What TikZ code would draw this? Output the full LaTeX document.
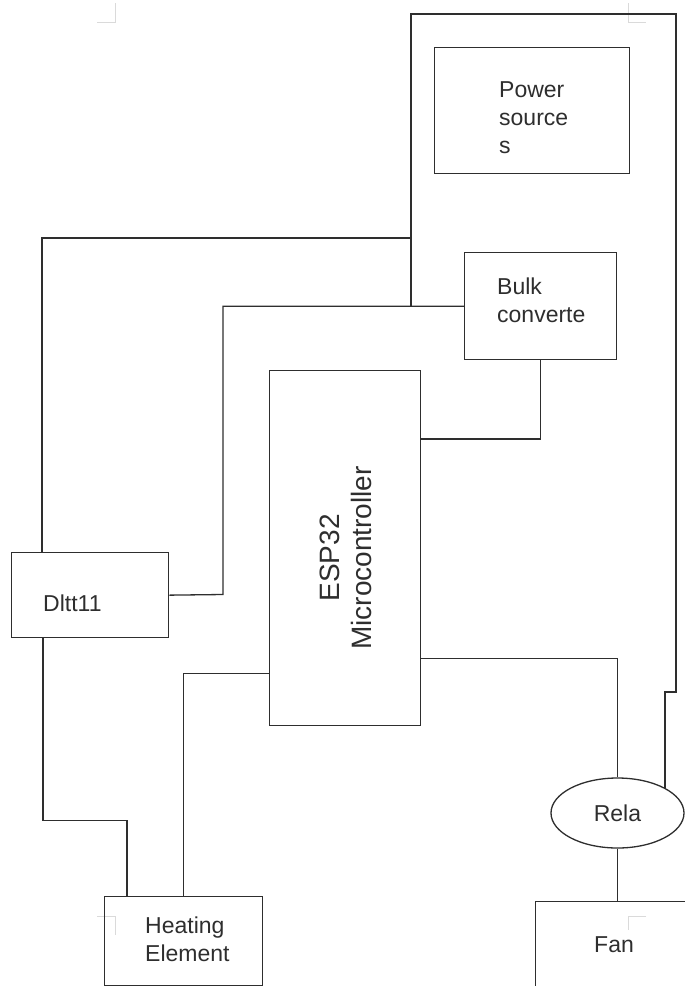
\documentclass[tikz,border=0pt]{standalone}
\usepackage{fontspec}
\setmainfont{Liberation Sans}
\usetikzlibrary{calc,positioning,shapes.geometric}
\definecolor{inkx}{HTML}{2E2E2E}
\definecolor{faintx}{HTML}{DADADA}
\tikzset{
  wire/.style={draw=inkx,line width=1.3pt},
  blk/.style={draw=inkx,line width=1.3pt,rectangle,inner sep=0pt,anchor=north west},
  lbl/.style={font=\fontsize{23}{28}\selectfont,align=left,anchor=north west,inner sep=0pt,text=inkx},
  cropmark/.style={draw=faintx,line width=1pt}
}
\begin{document}
\begin{tikzpicture}[x=1pt,y=-1pt]
\useasboundingbox (0,0) rectangle (685,986);
% page corner marks
\draw[cropmark] (115,3) -- (115,22) -- (97,22);
\draw[cropmark] (628,3) -- (628,22) -- (646,22);
\draw[cropmark] (97,916) -- (115,916) -- (115,935);
\draw[cropmark] (646,916) -- (628,916) -- (628,930);
% blocks
\node[blk,minimum width=195,minimum height=126] (pwr) at (434,47) {};
\node[blk,minimum width=152,minimum height=107] (bulk) at (464,252) {};
\node[blk,minimum width=151,minimum height=355] (esp) at (269,370) {};
\node[blk,minimum width=157,minimum height=85] (dht) at (11,552) {};
\node[blk,minimum width=158,minimum height=89] (heat) at (104,896) {};
\node[blk,minimum width=170,minimum height=100] (fan) at (535,901) {};
\node[draw=inkx,line width=1.3pt,ellipse,minimum width=133,minimum height=70,inner sep=0pt,
  font=\fontsize{23}{28}\selectfont,text=inkx] (rly) at (617.5,813) {Rela};
% labels
\node[lbl] (pwrtxt) at (499,81.5) {Power\\source\\s};
\node[lbl] (bulktxt) at (497,277.5) {Bulk\\converte};
\node[lbl] (dhttxt) at (43,594.5) {Dltt11};
\node[lbl] (heattxt) at (145,916.5) {Heating\\Element};
\node[lbl] (fantxt) at (594,936.5) {Fan};
\node[font=\fontsize{28}{32}\selectfont,align=center,inner sep=0pt,text=inkx,rotate=90]
  (esptxt) at (346,558) {ESP32\\Microcontroller};
% wires
\coordinate (tl) at (411,14);
\coordinate (tr) at (676,14);
\coordinate (stp) at (676,692);
\coordinate (ja) at (411,238);
\coordinate (jb) at (411,305.5);
\coordinate (jc) at (223,594.5);
\draw[wire] (rly.north east) |- (stp) -- (tr) -- (tl) -- (ja) -| ([xshift=31pt]dht.north west);
\draw[wire] (ja) -- (jb);
\draw[wire] (bulk.west) -| (jc) -- (dht.east);
\draw[wire] (bulk.south) |- ([yshift=-69pt]esp.north east);
\draw[wire] ([yshift=-110.5pt]esp.east) -| (rly.north);
\draw[wire] (heat.north) |- ([yshift=-125.5pt]esp.west);
\draw[wire] ([xshift=32pt]dht.south west) -- ++(0,182) -| ([xshift=23pt]heat.north west);
\draw[wire] (rly.south) -- (rly.south |- fan.north);
\end{tikzpicture}
\end{document}
